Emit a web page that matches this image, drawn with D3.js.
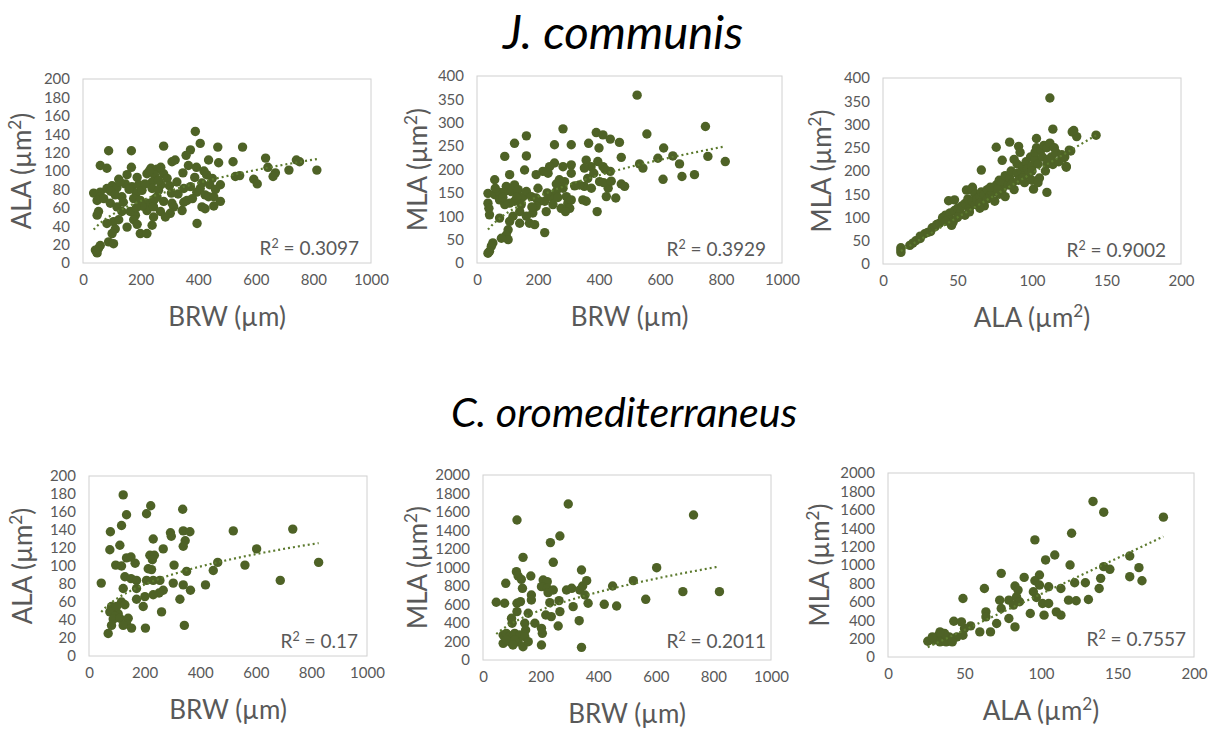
<!DOCTYPE html>
<html>
<head>
<meta charset="utf-8">
<script src="https://cdn.jsdelivr.net/npm/d3@7"></script>
<style>
  body { margin: 0; background: #fff; }
  svg { font-family: Lato, "Open Sans", sans-serif; }
</style>
</head>
<body>
<div id="chart"></div>
<script>
// ---- data: [x, y] ----

// J. communis, BRW (µm) vs ALA (µm²)
const jcBrwAla = [
  [390,143],[407,130],[280,127],[468,126],[554,126],[89,122],[168,122],[373,123],[358,117],
  [634,114],[436,112],[521,110],[471,109],[741,112],[752,110],[60,106],[83,103],[168,104],
  [236,103],[257,102],[309,110],[320,112],[366,106],[394,104],[642,104],[715,101],[812,101],
  [668,98],[660,94],[529,94],[544,95],[593,91],[605,86],[153,96],[188,93],[124,91],[347,98],
  [388,93],[429,96],[449,92],[222,97],[248,96],[280,97],[292,92],[240,88],[271,85],[326,88],
  [413,87],[440,85],[477,85],[37,76],[60,77],[83,81],[101,84],[118,82],[147,86],[170,83],
  [193,85],[60,72],[49,68],[72,70],[135,72],[185,76],[205,79],[240,81],[262,79],[307,76],
  [350,81],[373,83],[395,77],[407,81],[424,74],[436,72],[95,65],[118,61],[176,70],[199,68],
  [222,65],[245,68],[257,72],[280,67],[309,65],[315,61],[361,68],[413,61],[424,59],[454,62],
  [477,67],[454,72],[344,57],[269,56],[303,54],[49,52],[54,56],[135,56],[164,56],[182,52],
  [222,57],[245,50],[286,50],[106,45],[124,47],[176,47],[188,42],[240,41],[396,43],[83,43],
  [153,39],[199,32],[222,32],[112,37],[101,32],[89,23],[106,21],[60,19],[54,16],[49,11],
  [43,14],[245,61],[262,90],[230,100],[250,70],[205,62],[160,80],[140,66],[300,84],[330,75],
  [96,78],[112,74],[128,88],[270,104],[350,66],[380,70],[420,100],[460,80],[215,86],[185,60]
];

// J. communis, BRW (µm) vs MLA (µm²)
const jcBrwMla = [
  [525,359],[749,292],[282,287],[391,279],[413,274],[437,265],[467,258],[123,256],[162,272],
  [91,228],[162,229],[366,256],[309,253],[254,253],[400,246],[557,276],[612,246],[642,229],
  [757,228],[593,224],[473,226],[533,212],[544,203],[664,212],[814,217],[672,185],[713,189],
  [610,179],[484,164],[473,169],[455,139],[424,142],[430,160],[402,174],[415,172],[394,110],
  [396,217],[413,206],[437,196],[374,206],[358,220],[352,203],[383,192],[363,181],[352,164],
  [336,167],[347,135],[358,132],[309,210],[309,192],[282,206],[254,214],[238,206],[233,192],
  [216,196],[194,189],[156,199],[107,189],[58,178],[36,149],[58,146],[74,151],[91,153],
  [96,164],[112,153],[123,167],[135,157],[151,142],[162,153],[178,142],[194,139],[205,132],
  [222,132],[243,142],[260,153],[282,160],[287,174],[270,178],[260,169],[293,142],[298,128],
  [309,135],[276,117],[304,117],[249,125],[227,110],[222,65],[194,121],[183,107],[172,85],
  [189,82],[162,100],[140,85],[118,100],[107,89],[123,132],[107,128],[91,125],[74,135],
  [74,96],[41,103],[36,128],[39,117],[102,71],[96,60],[102,50],[80,53],[52,43],[47,36],
  [41,25],[36,21],[130,140],[145,125],[200,160],[230,150],[265,140],[320,165],[375,160],
  [420,200],[440,175],[290,110],[180,120],[60,160],[85,140],[140,110]
];

// J. communis, ALA (µm²) vs MLA (µm²)
const jcAlaMla = [
  [112,357],[114,290],[143,277],[127,284],[130,274],[126,243],[103,270],[85,262],[76,251],
  [91,253],[80,223],[111,221],[114,214],[121,228],[123,208],[110,154],[101,161],[66,202],
  [56,159],[60,165],[44,136],[48,138],[46,83],
  [12,30],[12,25],[12,35],[18,40],[20,45],[22,50],[25,55],[25,60],[28,65],[30,68],[32,70],
  [33,78],[35,80],[36,85],[38,88],[40,95],[40,100],[42,105],[44,100],[45,110],[45,95],
  [47,90],[48,115],[50,120],[52,110],[53,125],[55,130],[55,105],[57,140],[58,120],[60,135],
  [60,158],[62,150],[62,128],[63,140],[65,145],[65,130],[66,155],[68,150],[68,125],[70,140],
  [70,160],[72,148],[73,155],[75,165],[75,135],[76,170],[78,180],[78,150],[80,175],[80,160],
  [82,190],[82,145],[84,170],[85,185],[86,200],[87,175],[88,160],[88,225],[90,195],[90,215],
  [91,180],[92,240],[93,200],[94,210],[95,190],[95,175],[96,220],[97,205],[98,195],[99,230],
  [100,210],[100,200],[102,225],[102,240],[103,250],[104,215],[105,185],[106,245],[107,230],
  [108,255],[109,200],[110,250],[110,215],[111,225],[112,260],[113,230],[115,250],[116,240],
  [118,220],[120,235],[122,230],[123,210],[125,245],[128,287],[72,165],[58,112],[50,100],
  [42,92],[86,170],[94,185],[100,180],[104,175],[65,120],[77,160]
];

// C. oromediterraneus, BRW (µm) vs ALA (µm²)
const coBrwAla = [
  [123,179],[222,167],[207,158],[135,157],[337,163],[117,145],[77,138],[339,139],[363,138],
  [293,137],[296,133],[519,139],[733,141],[231,130],[346,128],[339,122],[111,123],[75,118],
  [267,119],[603,119],[135,109],[151,110],[166,103],[219,112],[235,112],[228,107],[96,101],
  [117,100],[306,101],[561,101],[463,104],[826,104],[447,95],[351,94],[213,97],[225,96],
  [129,88],[151,86],[171,84],[207,84],[231,84],[255,84],[688,84],[44,81],[123,75],[171,75],
  [303,81],[339,79],[419,79],[365,73],[267,73],[252,70],[231,68],[327,63],[171,63],[201,66],
  [117,60],[129,57],[195,55],[261,49],[81,55],[93,51],[75,49],[105,47],[93,44],[87,41],
  [111,42],[141,42],[135,36],[123,34],[81,34],[153,31],[203,31],[343,34],[69,25],[99,55]
];

// C. oromediterraneus, BRW (µm) vs MLA (µm²)
const coBrwMla = [
  [296,1687],[118,1514],[731,1568],[267,1341],[234,1269],[139,1110],[244,1056],[342,973],
  [603,998],[116,955],[122,908],[133,872],[166,908],[209,865],[223,847],[360,858],[522,858],
  [79,829],[137,775],[168,703],[168,649],[203,793],[223,775],[226,728],[244,757],[290,757],
  [308,775],[336,757],[346,800],[354,703],[450,800],[694,739],[821,739],[46,624],[75,613],
  [118,613],[130,631],[232,620],[264,642],[313,577],[365,613],[421,602],[464,584],[565,656],
  [157,505],[118,523],[218,487],[237,469],[267,523],[99,451],[101,397],[145,397],[180,397],
  [148,324],[203,342],[261,368],[334,425],[70,270],[81,288],[93,260],[110,288],[128,270],
  [145,252],[157,198],[122,198],[139,144],[203,162],[206,288],[70,180],[93,198],[110,216],
  [342,137],[81,216],[104,162]
];

// C. oromediterraneus, ALA (µm²) vs MLA (µm²)
const coAlaMla = [
  [134,1691],[141,1574],[180,1520],[96,1273],[120,1345],[103,1055],[109,1109],[119,1000],
  [158,1098],[141,982],[145,953],[164,971],[74,909],[89,865],[99,891],[96,829],[139,855],
  [158,873],[166,829],[63,745],[99,782],[105,764],[113,745],[83,771],[85,727],[95,709],
  [122,807],[129,807],[138,745],[49,636],[73,618],[79,618],[84,654],[86,600],[82,564],
  [74,527],[97,647],[101,582],[105,582],[118,618],[123,611],[131,625],[93,473],[102,455],
  [110,491],[113,455],[79,418],[83,327],[64,491],[64,436],[71,364],[67,273],[60,273],
  [54,338],[50,309],[43,389],[48,382],[49,236],[45,218],[40,218],[36,200],[33,236],[34,164],
  [30,182],[26,171],[38,164],[42,164],[37,255],[34,273],[29,218]
];

const TREND_TYPES = ["power", "power", "linear", "power", "power", "linear"];
const TREND_PTS = [
  [[39, 37], [803, 112.5]],
  [[42, 76], [811, 249]],
  [[12, 28], [143, 277]],
  [[48, 50.3], [817, 125]],
  [[46, 281], [818, 1009]],
  [[45, 255], [179, 1302]]
];

const R2_LABELS = ["0.3097", "0.3929", "0.9002", "0.17", "0.2011", "0.7557"];
const TITLES = ["J. communis", "C. oromediterraneus"];

// ---- layout per panel ----
const W = 1210, H = 731;
const PANELS = [
  {data: jcBrwAla, x: [0, 1000, 200], y: [0, 200, 20], xLabel: "BRW (µm)", yLabel: "ALA (µm²)",
   box: {l: 83, r: 371, t: 79, b: 263}, yLabX: 31, r2Pos: [12, 8]},
  {data: jcBrwMla, x: [0, 1000, 200], y: [0, 400, 50], xLabel: "BRW (µm)", yLabel: "MLA (µm²)",
   box: {l: 477, r: 782, t: 76, b: 263}, yLabX: 427, r2Pos: [16, 7]},
  {data: jcAlaMla, x: [0, 200, 50], y: [0, 400, 50], xLabel: "ALA (µm²)", yLabel: "MLA (µm²)",
   box: {l: 883, r: 1181, t: 78, b: 264}, yLabX: 831, r2Pos: [15, 7]},
  {data: coBrwAla, x: [0, 1000, 200], y: [0, 200, 20], xLabel: "BRW (µm)", yLabel: "ALA (µm²)",
   box: {l: 89, r: 367, t: 476, b: 656}, yLabX: 32, r2Pos: [9, 8]},
  {data: coBrwMla, x: [0, 1000, 200], y: [0, 2000, 200], xLabel: "BRW (µm)", yLabel: "MLA (µm²)",
   box: {l: 483, r: 771, t: 475, b: 660}, yLabX: 427, r2Pos: [5, 12]},
  {data: coAlaMla, x: [0, 200, 50], y: [0, 2000, 200], xLabel: "ALA  (µm²)", yLabel: "MLA (µm²)",
   box: {l: 888, r: 1194, t: 473, b: 657}, yLabX: 829, r2Pos: [8, 11]}
];

const DOT = "#4e6226";
const GREY = "#595959";

const svg = d3.select("#chart").append("svg")
  .attr("width", W).attr("height", H)
  .style("background", "#fff");

// curve through the two read points, power (y = c x^k) or linear
function trendFn(type, pts) {
  const [[x1, y1], [x2, y2]] = pts;
  if (type === "power") {
    const k = Math.log(y2 / y1) / Math.log(x2 / x1);
    return (v) => y1 * Math.pow(v / x1, k);
  }
  const m = (y2 - y1) / (x2 - x1);
  return (v) => y1 + m * (v - x1);
}

// write a label at font size fs, turning "²" into a raised small 2
function richText(sel, str, fs) {
  sel.attr("font-size", fs + "px");
  const rise = 0.38 * fs;
  let lift = 0;
  str.split(/(²)/).forEach(part => {
    if (part === "²") {
      sel.append("tspan").attr("dy", -rise).attr("font-size", (0.66 * fs) + "px").text("2");
      lift = rise;
    } else if (part) {
      sel.append("tspan").attr("dy", lift).text(part);
      lift = 0;
    }
  });
}

PANELS.forEach((p, i) => {
  const xScale = d3.scaleLinear().domain([p.x[0], p.x[1]]).range([p.box.l, p.box.r]);
  const yScale = d3.scaleLinear().domain([p.y[0], p.y[1]]).range([p.box.b, p.box.t]);
  const g = svg.append("g");

  // frame
  g.append("rect")
    .attr("x", p.box.l).attr("y", p.box.t)
    .attr("width", p.box.r - p.box.l).attr("height", p.box.b - p.box.t)
    .attr("fill", "none").attr("stroke", "#d0d0d0").attr("stroke-width", 1);

  // axes (labels only)
  const xAxis = g.append("g")
    .attr("transform", "translate(0," + p.box.b + ")")
    .call(d3.axisBottom(xScale).tickValues(d3.range(p.x[0], p.x[1] + 1, p.x[2]))
      .tickFormat(d3.format("d")).tickSize(0).tickPadding(11));
  const yAxis = g.append("g")
    .attr("transform", "translate(" + p.box.l + ",0)")
    .call(d3.axisLeft(yScale).tickValues(d3.range(p.y[0], p.y[1] + 1, p.y[2]))
      .tickFormat(d3.format("d")).tickSize(0).tickPadding(13));
  [xAxis, yAxis].forEach(a => {
    a.select(".domain").remove();
    a.selectAll("text").attr("fill", GREY).attr("font-size", "15px")
      .attr("font-family", "Lato, 'Open Sans', sans-serif");
  });

  // points
  g.selectAll("circle").data(p.data).enter().append("circle")
    .attr("cx", d => xScale(d[0]))
    .attr("cy", d => yScale(d[1]))
    .attr("r", 4.7)
    .attr("fill", DOT);

  // dotted trendline over the data's x range
  const f = trendFn(TREND_TYPES[i], TREND_PTS[i]);
  const ext = d3.extent(p.data, d => d[0]);
  const tPts = d3.range(0, 61).map(k => ext[0] + (ext[1] - ext[0]) * k / 60);
  g.append("path")
    .datum(tPts)
    .attr("d", d3.line().x(v => xScale(v)).y(v => yScale(f(v))))
    .attr("fill", "none")
    .attr("stroke", "#5c7a2e")
    .attr("stroke-width", 2.2)
    .attr("stroke-dasharray", "2,3");

  // R² label
  const r2 = g.append("text")
    .attr("x", p.box.r - p.r2Pos[0])
    .attr("y", p.box.b - p.r2Pos[1])
    .attr("text-anchor", "end")
    .attr("fill", GREY);
  richText(r2, "R² = " + R2_LABELS[i], 19);

  // axis titles
  const xt = g.append("text")
    .attr("x", (p.box.l + p.box.r) / 2)
    .attr("y", p.box.b + 63)
    .attr("text-anchor", "middle")
    .attr("fill", GREY);
  richText(xt, p.xLabel, 26);
  const yt = g.append("text")
    .attr("transform", "translate(" + p.yLabX + "," + ((p.box.t + p.box.b) / 2) + ") rotate(-90)")
    .attr("text-anchor", "middle")
    .attr("fill", GREY);
  richText(yt, p.yLabel, 26);
});

// species titles, sized to the width they take in the figure
const titleSpots = [{cx: 623, y: 39, w: 240}, {cx: 624, y: 427, w: 346}];
TITLES.forEach((t, i) => {
  const s = titleSpots[i];
  const txt = svg.append("text")
    .attr("x", s.cx).attr("y", s.y)
    .attr("text-anchor", "middle")
    .attr("font-style", "italic")
    .attr("font-size", "36px")
    .attr("fill", "#000")
    .text(t);
  const len = txt.node().getComputedTextLength();
  const fs = 36 * s.w / len;
  // keep the whole glyph box inside the page
  txt.attr("font-size", fs.toFixed(1) + "px")
    .attr("y", Math.max(s.y, Math.ceil(fs) + 1));
});
</script>
</body>
</html>
